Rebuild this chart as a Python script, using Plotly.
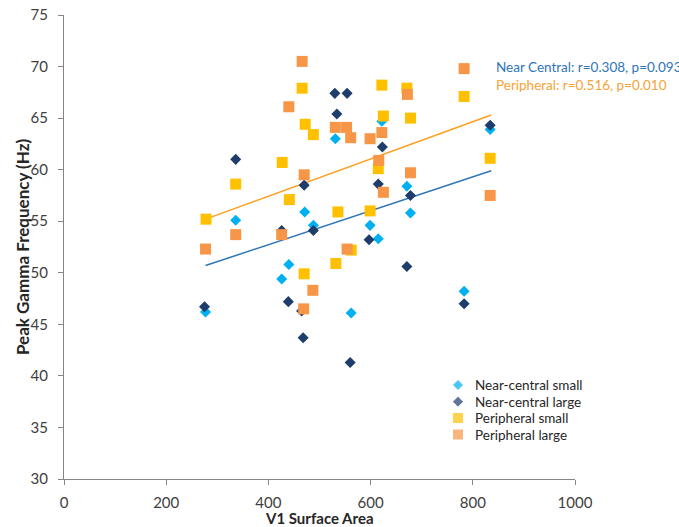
import plotly.graph_objects as go

# Near-central small
nc_small_x = [277, 336, 426, 440, 471, 488, 531, 562, 599, 615, 622, 671, 678, 783, 834]
nc_small_y = [46.2, 55.1, 49.4, 50.8, 55.9, 54.6, 63.0, 46.1, 54.6, 53.3, 64.7, 58.4, 55.8, 48.2, 63.9]

# Near-central large
nc_large_x = [275, 336, 426, 439, 465, 468, 470, 488, 530, 534, 554, 560, 597, 615, 623, 671, 678, 783, 834]
nc_large_y = [46.7, 61.0, 54.1, 47.2, 46.3, 43.7, 58.5, 54.1, 67.4, 65.4, 67.4, 41.3, 53.2, 58.6, 62.2, 50.6, 57.5, 47.0, 64.3]

# Peripheral small
p_small_x = [278, 336, 427, 441, 466, 470, 472, 488, 532, 536, 562, 599, 615, 622, 625, 671, 678, 783, 834]
p_small_y = [55.2, 58.6, 60.7, 57.1, 67.9, 49.9, 64.4, 63.4, 50.9, 55.9, 52.2, 56.0, 60.1, 68.2, 65.2, 67.9, 65.0, 67.1, 61.1]

# Peripheral large
p_large_x = [277, 336, 426, 440, 466, 469, 470, 487, 531, 553, 554, 561, 599, 616, 622, 625, 672, 678, 783, 834]
p_large_y = [52.3, 53.7, 53.7, 66.1, 70.5, 46.5, 59.5, 48.3, 64.1, 64.1, 52.3, 63.1, 63.0, 60.9, 63.6, 57.8, 67.3, 59.7, 69.8, 57.5]

# Trend lines (read endpoints)
trend_x = [277, 836]
nc_trend_y = [50.7, 59.9]
p_trend_y = [55.2, 65.3]

x_ticks = [0, 200, 400, 600, 800, 1000]
y_ticks = [30, 35, 40, 45, 50, 55, 60, 65, 70, 75]

series_names = ["Near-central small", "Near-central large", "Peripheral small", "Peripheral large"]
series_colors = ["#00B0F0", "#1F3D6B", "#FFC000", "#F79646"]
series_symbols = ["diamond", "diamond", "square", "square"]
series_sizes = [8.5, 8.5, 11, 11]

FONT = "Lato"
W, H = 679, 527
ML, MR, MT, MB = 64, 104, 15, 48
PW, PH = W - ML - MR, H - MT - MB


def px_to_paper_x(px):
    return (px - ML) / PW


def px_to_paper_y(py):
    return (H - MB - py) / PH


fig = go.Figure()
fig.add_trace(go.Scatter(x=trend_x, y=nc_trend_y, mode="lines",
                         line=dict(color="#2E75B6", width=1.5), showlegend=False, hoverinfo="skip"))
fig.add_trace(go.Scatter(x=trend_x, y=p_trend_y, mode="lines",
                         line=dict(color="#FF9E1F", width=1.5), showlegend=False, hoverinfo="skip"))

data = [(nc_small_x, nc_small_y), (nc_large_x, nc_large_y), (p_small_x, p_small_y), (p_large_x, p_large_y)]
for (xs, ys), name, col, sym, sz in zip(data, series_names, series_colors, series_symbols, series_sizes):
    fig.add_trace(go.Scatter(x=xs, y=ys, mode="markers", name=name, showlegend=False,
                             marker=dict(symbol=sym, size=sz, color=col)))

# Manual legend (markers on an overlay paper-like axis, text as annotations)
legend_rows_px = [385, 401.7, 418, 434.5]
legend_marker_px = 458
legend_text_px = 473
fig.add_trace(go.Scatter(
    x=[px_to_paper_x(legend_marker_px)] * 4,
    y=[px_to_paper_y(r) for r in legend_rows_px],
    xaxis="x2", yaxis="y2", mode="markers", showlegend=False, hoverinfo="skip",
    marker=dict(symbol=series_symbols, size=series_sizes, color=series_colors)))
for r, name in zip(legend_rows_px, series_names):
    fig.add_annotation(x=px_to_paper_x(legend_text_px), y=px_to_paper_y(r), xref="paper", yref="paper",
                       xanchor="left", yanchor="middle", text=name, showarrow=False,
                       font=dict(family=FONT, size=13.5, color="#262626"))

axis_common = dict(showgrid=False, zeroline=False, showline=True, linecolor="#868686", linewidth=1,
                   ticks="outside", ticklen=5, tickcolor="#868686", automargin=False,
                   tickfont=dict(family=FONT, size=15, color="#404040"))

fig.update_layout(
    width=W, height=H,
    margin=dict(l=ML, r=MR, t=MT, b=MB),
    paper_bgcolor="white", plot_bgcolor="white",
    font=dict(family=FONT, color="#404040"),
    xaxis=dict(range=[0, 1000], tickvals=x_ticks, ticklabelstandoff=5, **axis_common),
    yaxis=dict(range=[30, 75], tickvals=y_ticks, ticklabelstandoff=7, **axis_common),
    xaxis2=dict(range=[0, 1], overlaying="x", visible=False, domain=[0, 1]),
    yaxis2=dict(range=[0, 1], overlaying="y", visible=False, domain=[0, 1]),
    showlegend=False,
)

# Axis titles
fig.add_annotation(x=0.5, y=0, xref="paper", yref="paper", xanchor="center", yanchor="middle",
                   yshift=-(518 - (H - MB)), text="<b>V1 Surface Area</b>", showarrow=False,
                   font=dict(family=FONT, size=15, color="#262626"))
fig.add_annotation(x=0, y=px_to_paper_y(247), xref="paper", yref="paper", xanchor="center", yanchor="middle",
                   xshift=22 - ML, textangle=-90, text="<b>Peak Gamma Frequency (Hz)</b>", showarrow=False,
                   font=dict(family=FONT, size=17, color="#262626"))

# Correlation annotations
fig.add_annotation(x=px_to_paper_x(494), y=px_to_paper_y(67), xref="paper", yref="paper",
                   xanchor="left", yanchor="middle", text="Near Central: r=0.308, p=0.093", showarrow=False,
                   font=dict(family=FONT, size=13.5, color="#2E75B6"))
fig.add_annotation(x=px_to_paper_x(494), y=px_to_paper_y(85), xref="paper", yref="paper",
                   xanchor="left", yanchor="middle", text="Peripheral: r=0.516, p=0.010", showarrow=False,
                   font=dict(family=FONT, size=13.5, color="#F7A234"))

fig.write_html("out.html", config={"displayModeBar": False},
               post_script="document.body.style.margin='0';document.body.style.overflow='hidden';")
